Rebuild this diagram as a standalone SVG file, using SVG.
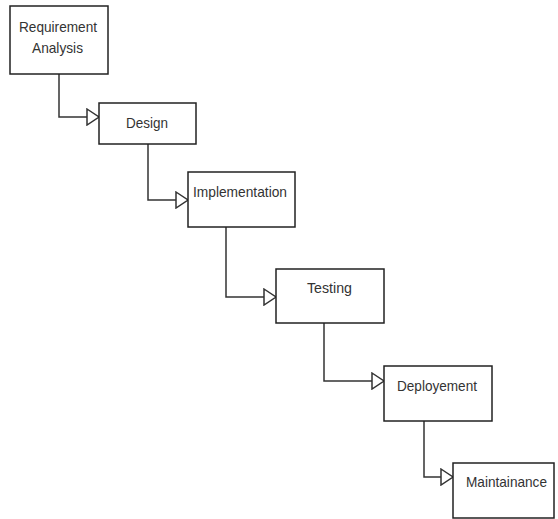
<svg xmlns="http://www.w3.org/2000/svg" width="558" height="519" viewBox="0 0 558 519">
<style>
.box{fill:#fff;stroke:#222;stroke-width:1.5}
.lbl{font-family:"Liberation Sans",Arial,sans-serif;font-size:15px;fill:#333}
.conn{fill:none;stroke:#333;stroke-width:1.5}
</style>
<defs>
<marker id="tri" markerUnits="userSpaceOnUse" markerWidth="14" markerHeight="18" refX="12" refY="8" orient="auto" viewBox="-1 -1 14 18">
<path d="M0,0 L12,8 L0,16 Z" fill="#fff" stroke="#333" stroke-width="1.5"/>
</marker>
</defs>
<rect width="558" height="519" fill="#fff"/>
<g id="connectors">
<path class="conn" d="M59,74 V117 H99" marker-end="url(#tri)"/>
<path class="conn" d="M148,144 V200 H188" marker-end="url(#tri)"/>
<path class="conn" d="M226,227 V297 H276" marker-end="url(#tri)"/>
<path class="conn" d="M324,323 V381 H384" marker-end="url(#tri)"/>
<path class="conn" d="M424,421 V477 H453" marker-end="url(#tri)"/>
</g>
<g id="requirement">
<rect class="box" x="10" y="6" width="98" height="68"/>
<text class="lbl" x="19" y="32" textLength="78" lengthAdjust="spacingAndGlyphs">Requirement</text>
<text class="lbl" x="32" y="53" textLength="51" lengthAdjust="spacingAndGlyphs">Analysis</text>
</g>
<g id="design">
<rect class="box" x="99" y="103" width="97" height="41"/>
<text class="lbl" x="126" y="128" textLength="42" lengthAdjust="spacingAndGlyphs">Design</text>
</g>
<g id="implementation">
<rect class="box" x="188" y="172" width="107" height="55"/>
<text class="lbl" x="193" y="197" textLength="94" lengthAdjust="spacingAndGlyphs">Implementation</text>
</g>
<g id="testing">
<rect class="box" x="276" y="269" width="108" height="54"/>
<text class="lbl" x="307" y="293" textLength="45" lengthAdjust="spacingAndGlyphs">Testing</text>
</g>
<g id="deployement">
<rect class="box" x="384" y="366" width="108" height="55"/>
<text class="lbl" x="397" y="391" textLength="80" lengthAdjust="spacingAndGlyphs">Deployement</text>
</g>
<g id="maintainance">
<rect class="box" x="453" y="463" width="101" height="55"/>
<text class="lbl" x="466" y="487" textLength="81" lengthAdjust="spacingAndGlyphs">Maintainance</text>
</g>
</svg>
